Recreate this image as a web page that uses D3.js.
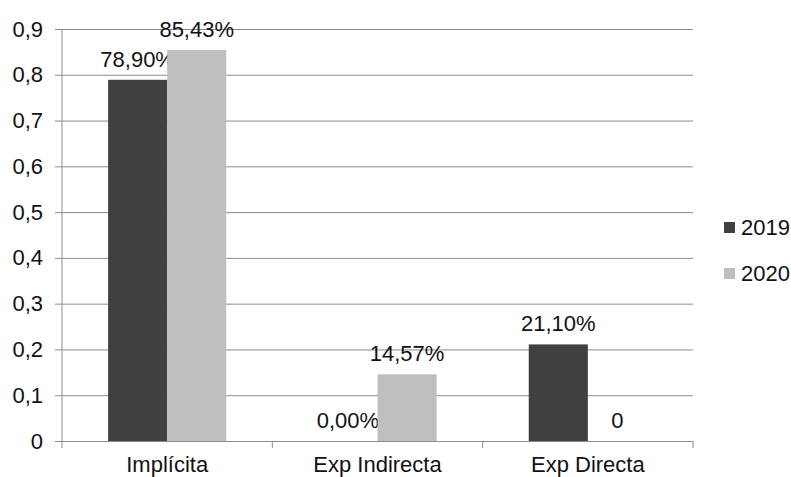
<!DOCTYPE html>
<html>
<head>
<meta charset="utf-8">
<script src="https://cdn.jsdelivr.net/npm/d3@7"></script>
<style>
  html, body { margin: 0; padding: 0; background: #fff; }
  svg { display: block; font-family: "Liberation Sans", Arial, sans-serif; }
</style>
</head>
<body>
<svg id="chart" width="791" height="477"></svg>
<script>
// Categories, series and labels
const categories = ["Implícita", "Exp Indirecta", "Exp Directa"];
const seriesNames = ["2019", "2020"];
const values2019 = [0.789, 0.0, 0.211];
const values2020 = [0.8543, 0.1457, 0.0];
const labels2019 = ["78,90%", "0,00%", "21,10%"];
const labels2020 = ["85,43%", "14,57%", "0"];
const yTicks = [0, 0.1, 0.2, 0.3, 0.4, 0.5, 0.6, 0.7, 0.8, 0.9];
const colors = ["#404040", "#bfbfbf"];

const series = [
  { name: seriesNames[0], values: values2019, labels: labels2019, color: colors[0] },
  { name: seriesNames[1], values: values2020, labels: labels2020, color: colors[1] }
];

const FS = 22;
const svg = d3.select("#chart");
const margin = { left: 62, right: 98, top: 29, bottom: 36 };
const W = 791, H = 477;
const plotW = W - margin.left - margin.right;
const plotH = H - margin.top - margin.bottom;

const g = svg.append("g").attr("transform", `translate(${margin.left},${margin.top})`);

const x0 = d3.scaleBand().domain(categories).range([0, plotW]).paddingInner(0).paddingOuter(0);
const x1 = d3.scaleBand().domain(seriesNames).range([0, x0.bandwidth()]).paddingInner(0).paddingOuter(0.78);
const y = d3.scaleLinear().domain([0, 0.9]).range([plotH, 0]);

const fmt = v => d3.format(".1f")(v).replace(".", ",");

// Horizontal gridlines with short outer ticks
const yAxis = d3.axisLeft(y).tickValues(yTicks).tickSize(-(plotW + 7)).tickPadding(12)
  .tickFormat(v => v === 0 ? "0" : fmt(v));
const yg = g.append("g").attr("transform", "translate(-7,0)").call(yAxis);
yg.select(".domain").remove();
yg.selectAll(".tick line").attr("stroke", "#8c8c8c").attr("stroke-width", 1);
yg.selectAll(".tick text").attr("font-size", FS).attr("fill", "#111")
  .attr("font-family", "'Liberation Sans', Arial, sans-serif");

// Left axis line
g.append("line").attr("x1", 0).attr("x2", 0).attr("y1", 0).attr("y2", plotH)
  .attr("stroke", "#8c8c8c");

// Category axis
const xAxis = d3.axisBottom(x0).tickSize(0).tickPadding(15);
const xg = g.append("g").attr("transform", `translate(0,${plotH})`).call(xAxis);
xg.select(".domain").remove();
xg.selectAll(".tick text").attr("font-size", FS).attr("fill", "#111")
  .attr("font-family", "'Liberation Sans', Arial, sans-serif");
// Category boundary ticks
const bounds = categories.map(c => x0(c)).concat([plotW]);
g.selectAll(".cat-tick").data(bounds).join("line")
  .attr("class", "cat-tick")
  .attr("x1", d => d).attr("x2", d => d)
  .attr("y1", plotH).attr("y2", plotH + 7)
  .attr("stroke", "#8c8c8c");

// Bars with value labels
const groups = g.selectAll(".cat").data(categories).join("g")
  .attr("transform", c => `translate(${x0(c)},0)`);

series.forEach(s => {
  groups.append("rect")
    .attr("x", x1(s.name))
    .attr("width", x1.bandwidth())
    .attr("y", (c, i) => y(s.values[i]))
    .attr("height", (c, i) => plotH - y(s.values[i]))
    .attr("fill", s.color);
  groups.append("text")
    .attr("x", x1(s.name) + x1.bandwidth() / 2)
    .attr("y", (c, i) => y(s.values[i]) - 13)
    .attr("text-anchor", "middle")
    .attr("font-size", FS)
    .attr("fill", "#111")
    .text((c, i) => s.labels[i]);
});

// Legend
const legend = svg.append("g").attr("transform", "translate(724,222)");
series.forEach((s, i) => {
  const row = legend.append("g").attr("transform", `translate(0,${i * 46})`);
  row.append("rect").attr("width", 11).attr("height", 11).attr("fill", s.color);
  row.append("text").attr("x", 17).attr("y", 13).attr("font-size", FS)
    .attr("fill", "#111").text(s.name);
});
</script>
</body>
</html>
